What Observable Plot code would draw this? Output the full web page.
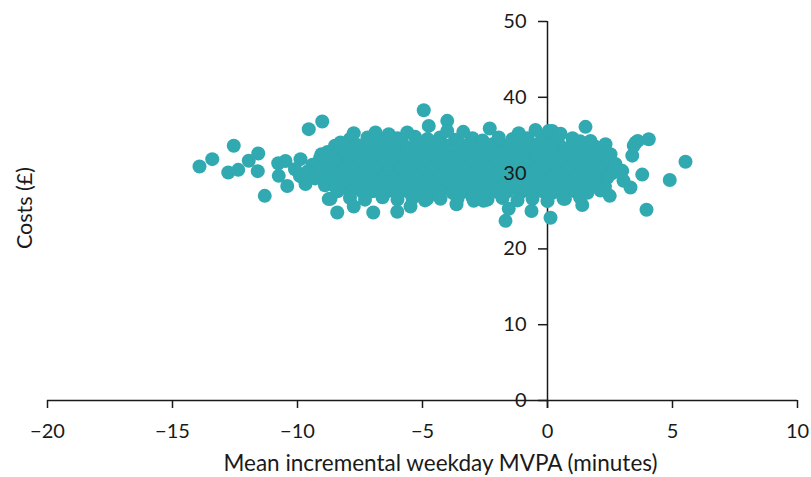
<!DOCTYPE html>
<html>
<head>
<meta charset="utf-8">
<script src="https://cdn.jsdelivr.net/npm/d3@7"></script>
<script src="https://cdn.jsdelivr.net/npm/@observablehq/plot@0.6"></script>
<style>
  html, body { margin: 0; padding: 0; background: #ffffff; }
  #chart { width: 811px; height: 477px; }
</style>
</head>
<body>
<div id="chart"></div>
<script>
// Bootstrapped incremental MVPA (minutes) vs incremental cost (£)
const xTicks = [-20, -15, -10, -5, 0, 5, 10];
const yTicks = [0, 10, 20, 30, 40, 50];
const xTitle = "Mean incremental weekday MVPA (minutes)";
const yTitle = "Costs (£)";

// Dense centre of the cloud: [mvpa, cost]
const cloudCore = [
  [-7.9,34.5],[-7.2,34.7],[-6.6,34.4],[-6.0,34.6],[-5.3,34.8],[-4.8,34.5],[-4.3,34.7],[-3.7,34.4],[-3.0,34.6],[-2.6,34.3],[-1.4,34.5],[-0.8,34.6],[-0.2,34.8],[0.4,34.5],[1.0,34.6],[1.3,34.2],
  [-8.5,33.6],[-8.0,33.9],[-7.6,33.7],[-7.1,33.9],[-6.7,33.8],[-6.2,33.6],[-5.8,33.9],[-5.3,33.7],[-4.9,33.8],[-4.4,33.9],[-4.0,33.6],[-3.5,33.8],[-3.1,33.9],[-2.6,33.7],[-2.2,33.8],[-1.7,33.6],[-1.3,33.9],[-0.8,33.7],[-0.4,33.8],[0.1,33.9],[0.5,33.6],[1.0,33.8],[1.4,33.7],[1.9,33.5],
  [-8.8,32.8],[-8.3,33.0],[-7.9,32.9],[-7.4,32.7],[-7.0,33.0],[-6.5,32.9],[-6.1,32.8],[-5.6,33.0],[-5.2,32.9],[-4.7,32.8],[-4.3,33.0],[-3.8,32.9],[-3.4,32.7],[-2.9,32.9],[-2.5,33.0],[-2.0,32.8],[-1.6,32.9],[-1.1,33.0],[-0.7,32.8],[-0.2,32.9],[0.2,33.0],[0.7,32.8],[1.1,32.9],[1.6,32.7],[2.0,32.9],
  [-9.1,32.0],[-8.6,31.9],[-8.1,32.1],[-7.7,32.0],[-7.2,31.9],[-6.8,32.1],[-6.3,32.0],[-5.9,31.9],[-5.4,32.1],[-5.0,32.0],[-4.5,31.9],[-4.1,32.1],[-3.6,32.0],[-3.2,31.9],[-2.7,32.1],[-2.3,32.0],[-1.8,31.9],[-1.4,32.1],[-0.9,32.0],[-0.5,31.9],[0.0,32.1],[0.4,32.0],[0.9,31.9],[1.3,32.1],[1.8,32.0],[2.2,31.8],
  [-9.4,31.1],[-8.9,31.0],[-8.4,31.2],[-8.0,31.1],[-7.5,31.0],[-7.1,31.2],[-6.6,31.1],[-6.2,31.0],[-5.7,31.2],[-5.3,31.1],[-4.8,31.0],[-4.4,31.2],[-3.9,31.1],[-3.5,31.0],[-3.0,31.2],[-2.6,31.1],[-2.1,31.0],[-1.7,31.2],[-1.2,31.1],[-0.8,31.0],[-0.3,31.2],[0.1,31.1],[0.6,31.0],[1.0,31.2],[1.5,31.1],[1.9,31.0],[2.4,31.2],
  [-9.6,30.2],[-9.1,30.1],[-8.6,30.3],[-8.2,30.2],[-7.7,30.1],[-7.3,30.3],[-6.8,30.2],[-6.4,30.1],[-5.9,30.3],[-5.5,30.2],[-5.0,30.1],[-4.6,30.3],[-4.1,30.2],[-3.7,30.1],[-3.2,30.3],[-2.8,30.2],[-2.3,30.1],[-1.9,30.3],[-1.4,30.2],[-1.0,30.1],[-0.5,30.3],[-0.1,30.2],[0.4,30.1],[0.8,30.3],[1.3,30.2],[1.7,30.1],[2.2,30.3],[2.6,30.0],
  [-9.3,29.3],[-8.8,29.2],[-8.4,29.4],[-7.9,29.3],[-7.5,29.2],[-7.0,29.4],[-6.6,29.3],[-6.1,29.2],[-5.7,29.4],[-5.2,29.3],[-4.8,29.2],[-4.3,29.4],[-3.9,29.3],[-3.4,29.2],[-3.0,29.4],[-2.5,29.3],[-2.1,29.2],[-1.6,29.4],[-1.2,29.3],[-0.7,29.2],[-0.3,29.4],[0.2,29.3],[0.6,29.2],[1.1,29.4],[1.5,29.3],[2.0,29.2],[2.4,29.4],
  [-8.9,28.4],[-8.5,28.3],[-8.0,28.5],[-7.6,28.4],[-7.1,28.3],[-6.7,28.5],[-6.2,28.4],[-5.8,28.3],[-5.3,28.5],[-4.9,28.4],[-4.4,28.3],[-4.0,28.5],[-3.5,28.4],[-3.1,28.3],[-2.6,28.5],[-2.2,28.4],[-1.7,28.3],[-1.3,28.5],[-0.8,28.4],[-0.4,28.3],[0.1,28.5],[0.5,28.4],[1.0,28.3],[1.4,28.5],[1.9,28.4],[2.3,28.2],
  [-8.4,27.6],[-7.9,27.4],[-7.4,27.5],[-7.0,27.6],[-6.5,27.4],[-6.1,27.5],[-5.6,27.6],[-5.2,27.4],[-4.7,27.5],[-4.3,27.6],[-3.8,27.4],[-3.4,27.5],[-2.9,27.6],[-2.5,27.4],[-2.0,27.5],[-1.6,27.6],[-1.1,27.4],[-0.7,27.5],[-0.2,27.6],[0.2,27.4],[0.7,27.5],[1.1,27.6],[1.6,27.4],
  [-7.9,26.7],[-7.3,26.5],[-6.6,26.8],[-6.0,26.5],[-5.4,26.7],[-4.9,26.4],[-3.6,26.6],[-3.0,26.8],[-2.4,26.5],[-1.8,26.7],[-1.2,26.4],[-0.6,26.6],[0.0,26.3],[0.7,26.6],[1.3,26.8]
];

// Sparse samples on the left
const leftTail = [
  [-13.92,30.87],[-13.41,31.84],[-12.55,33.6],[-12.77,30.08],[-12.37,30.43],[-11.95,31.62],
  [-11.57,32.59],[-11.59,30.26],[-11.31,27.0],[-10.77,31.3],[-10.75,29.64],[-10.48,31.6],
  [-10.41,28.3],[-9.88,31.84],[-9.55,35.8],[-9.01,36.8],[-9.04,32.5],[-8.75,26.57],
  [-8.41,24.8],[-9.68,28.55],[-10.1,30.5],[-9.9,29.6]
];

// Samples above and below the centre
const upperEdge = [
  [-8.28,34.03],[-7.75,35.27],[-6.88,35.35],[-6.35,35.13],[-5.61,35.35],[-4.95,38.3],
  [-4.75,36.23],[-4.01,36.89],[-4.01,35.57],[-3.37,35.44],[-2.31,35.88],[-1.95,34.69],
  [-1.15,35.27],[-0.48,35.7],[0.05,35.57],[0.19,35.57],[0.45,35.0],[1.52,36.1]
];
const lowerEdge = [
  [-8.41,28.1],[-8.68,26.6],[-7.75,25.6],[-6.97,24.8],[-6.01,24.9],[-5.48,25.6],
  [-3.64,25.9],[-1.68,23.7],[-1.55,25.3],[-0.64,25.0],[-4.81,26.6],[-4.28,26.6],
  [-2.95,26.35],[-2.56,26.35]
];

// Sparse samples on the right
const rightTail = [
  [2.32,33.8],[3.52,34.0],[3.61,34.25],[4.05,34.47],[3.39,32.3],[5.52,31.5],[4.89,29.08],
  [3.79,29.8],[3.32,28.1],[2.49,27.0],[1.39,25.8],[3.96,25.16],[0.12,24.1],[2.99,30.3],
  [3.04,29.0],[2.72,31.2],[2.52,32.5],[1.72,34.25],[0.52,35.2],[2.12,27.7],[0.64,26.6],
  [3.45,33.6]
];

const samples = [...cloudCore, ...leftTail, ...upperEdge, ...lowerEdge, ...rightTail]
  .map(([mvpa, cost]) => ({mvpa, cost}));

const ink = "#1a1a1a";
const teal = "#30a9b1";

const chart = Plot.plot({
  width: 811,
  height: 477,
  marginLeft: 47,
  marginRight: 14,
  marginTop: 21,
  marginBottom: 77,
  style: {fontFamily: "Lato, 'Noto Sans', sans-serif", background: "#ffffff"},
  x: {domain: [-20, 10], axis: null},
  y: {domain: [0, 50], axis: null},
  marks: [
    // x axis line along cost = 0
    Plot.ruleY([0], {stroke: ink, strokeWidth: 1.5}),
    // x ticks and labels at the bottom of the frame
    Plot.axisX({
      anchor: "bottom",
      ticks: xTicks,
      tickSize: 8,
      tickPadding: 15,
      fontSize: 20,
      color: ink,
      strokeWidth: 1.5,
      label: null
    }),
    // y axis line along mvpa = 0
    Plot.ruleX([0], {stroke: ink, strokeWidth: 1.5, insetBottom: -8}),
    // y ticks pointing left from the axis
    Plot.ruleY(yTicks, {y: d => d, x1: 0, x2: 0, insetLeft: -9, stroke: ink, strokeWidth: 1.5}),
    // bootstrap samples
    Plot.dot(samples, {x: "mvpa", y: "cost", r: 7, fill: teal, stroke: "none"}),
    // y tick labels
    Plot.text(yTicks, {x: 0, y: d => d, text: d => String(d), textAnchor: "end", dx: -21, fontSize: 20, fill: ink}),
    // axis titles
    Plot.text([xTitle], {frameAnchor: "bottom", textAnchor: "middle", lineAnchor: "middle", dx: 18, dy: 63, fontSize: 22.5, fill: ink}),
    Plot.text([yTitle], {frameAnchor: "left", textAnchor: "middle", lineAnchor: "middle", rotate: -90, dx: -22, dy: -3, fontSize: 21.5, fill: ink})
  ]
});

document.getElementById("chart").appendChild(chart);
</script>
</body>
</html>
